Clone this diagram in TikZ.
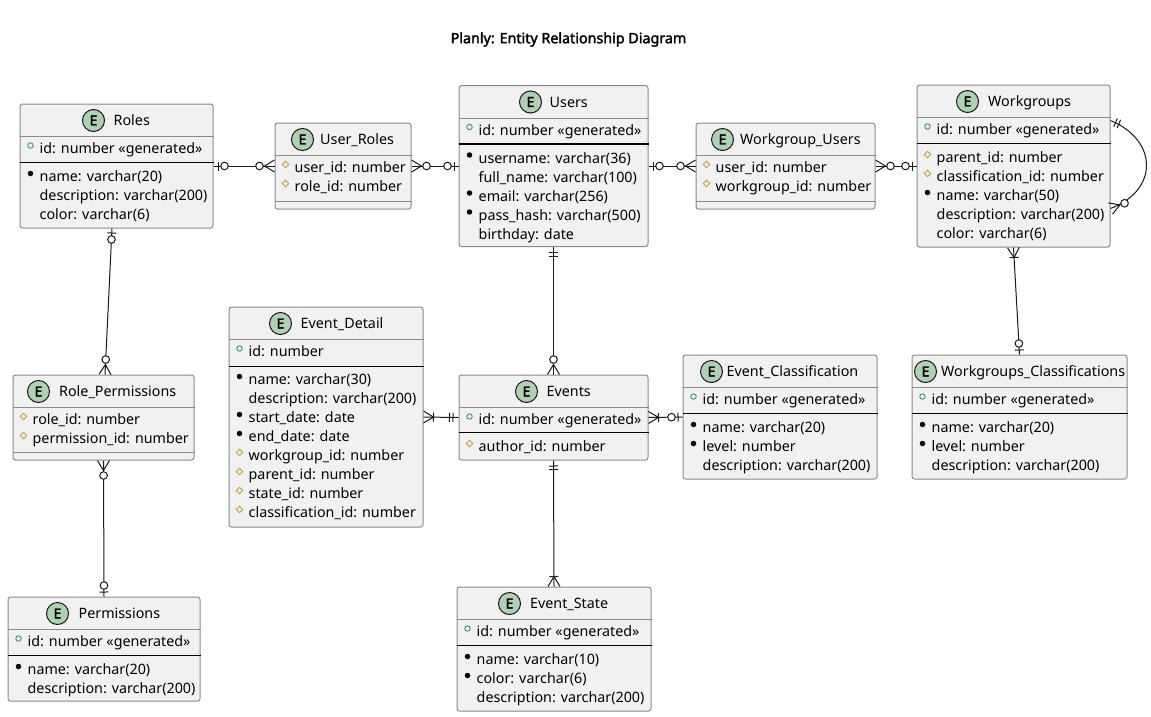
\documentclass[tikz,border=0pt]{standalone}
\usepackage{fontspec}
\setmainfont{Noto Sans}[AutoFakeBold=2.2]
\usetikzlibrary{calc,shapes.geometric}

\definecolor{entfill}{HTML}{F1F1F1}
\definecolor{entline}{HTML}{8A8A8A}
\definecolor{inkline}{HTML}{181818}
\definecolor{iconfill}{HTML}{ADD1B2}
\definecolor{pkgreen}{HTML}{3C9A62}
\definecolor{fkgold}{HTML}{C8A03C}

\newcommand{\fieldfont}{\fontsize{14.3}{17}\selectfont}

% entity parts: #1 entity node
\newcommand{\enthead}[4]{%
  \node[eicon] (#1-icon) at ($(#1.north west)+(#2,17)$) {E};
  \node[etitle] (#1-title) at ($(#1.north west)+(#3,22)$) {#4};
  \draw[hsep] ($(#1.north west)+(0,33)$) -- ($(#1.north east)+(0,33)$);}
\newcommand{\entfield}[5]{%
  \node[mk#4] (#1-#2-mk) at ($(#1.north west)+(11,#3-8)$) {};
  \node[ftext] (#1-#2) at ($(#1.north west)+(20,#3)$) {#5};}
\newcommand{\entplain}[4]{%
  \node[ftext] (#1-#2) at ($(#1.north west)+(20,#3)$) {#4};}
\newcommand{\entkeysep}[2]{%
  \draw[ksep] ($(#1.north west)+(0,#2)$) -- ($(#1.north east)+(0,#2)$);}
\newcommand{\entmethsep}[2]{%
  \draw[hsep] ($(#1.north west)+(0,#2)$) -- ($(#1.north east)+(0,#2)$);}

% crow's foot ends: #1 entity end, #2 other end
\newcommand{\relTick}[3]{%
  \draw[conn] ($(#1)!#3!(#2)!4.5pt!90:(#2)$) -- ($(#1)!#3!(#2)!4.5pt!-90:(#2)$);}
\newcommand{\relRing}[3]{%
  \draw[conn, fill=white] ($(#1)!#3!(#2)$) circle (3.8pt);}
\newcommand{\relCrow}[2]{%
  \draw[conn] ($(#1)!6pt!90:(#2)$) -- ($(#1)!10pt!(#2)$) -- ($(#1)!6pt!-90:(#2)$);}
\newcommand{\zeroone}[2]{\relTick{#1}{#2}{4.5pt}\relRing{#1}{#2}{11pt}}
\newcommand{\zeromany}[2]{\relCrow{#1}{#2}\relRing{#1}{#2}{15pt}}
\newcommand{\exactone}[2]{\relTick{#1}{#2}{5.5pt}\relTick{#1}{#2}{9pt}}
\newcommand{\onemany}[2]{\relCrow{#1}{#2}\relTick{#1}{#2}{10pt}}

\begin{document}
\begin{tikzpicture}[x=1pt, y=-1pt,
  ent/.style={draw=entline, fill=entfill, line width=1pt, rounded corners=2.5pt, inner sep=0},
  eicon/.style={circle, draw=inkline, fill=iconfill, line width=1pt, minimum size=22pt,
    inner sep=0, font=\fontsize{14}{14}\selectfont\bfseries},
  etitle/.style={anchor=base west, inner sep=0, font=\fieldfont},
  ftext/.style={anchor=base west, inner sep=0, font=\fieldfont},
  mkpk/.style={circle, draw=pkgreen, line width=0.9pt, minimum size=5.5pt, inner sep=0},
  mkmd/.style={circle, fill=black, minimum size=5.5pt, inner sep=0},
  mkfk/.style={diamond, draw=fkgold, line width=0.9pt, minimum size=7pt, inner sep=0},
  hsep/.style={draw=entline, line width=1pt},
  ksep/.style={draw=black, line width=1.2pt},
  conn/.style={draw=inkline, line width=1pt}]
  \useasboundingbox (0,0) rectangle (1151,717);

  % Title
  \node[inner sep=0, font=\fontsize{14.3}{17}\selectfont\bfseries] (title) at (568.5,39.5)
    {Planly: Entity Relationship Diagram};

  % Roles
  \node[ent, minimum width=193pt, minimum height=124pt] (roles) at (116.5,166) {};
  \enthead{roles}{74}{94}{Roles}
  \entfield{roles}{id}{50}{pk}{id: number «generated»}
  \entkeysep{roles}{59}
  \entfield{roles}{name}{78}{md}{name: varchar(20)}
  \entplain{roles}{desc}{97}{description: varchar(200)}
  \entplain{roles}{color}{116}{color: varchar(6)}

  % User_Roles
  \node[ent, minimum width=136pt, minimum height=86pt] (userroles) at (343,166) {};
  \enthead{userroles}{28}{45.5}{User\_Roles}
  \entfield{userroles}{user}{50}{fk}{user\_id: number}
  \entfield{userroles}{role}{69}{fk}{role\_id: number}
  \entmethsep{userroles}{79}

  % Users
  \node[ent, minimum width=189pt, minimum height=161pt] (users) at (553.5,166) {};
  \enthead{users}{72}{91}{Users}
  \entfield{users}{id}{50}{pk}{id: number «generated»}
  \entkeysep{users}{59}
  \entfield{users}{username}{78}{md}{username: varchar(36)}
  \entplain{users}{fullname}{97}{full\_name: varchar(100)}
  \entfield{users}{email}{116}{md}{email: varchar(256)}
  \entfield{users}{pass}{135}{md}{pass\_hash: varchar(500)}
  \entplain{users}{birthday}{154}{birthday: date}

  % Workgroup_Users
  \node[ent, minimum width=179pt, minimum height=86pt] (wgusers) at (785.5,166) {};
  \enthead{wgusers}{27}{44.5}{Workgroup\_Users}
  \entfield{wgusers}{user}{50}{fk}{user\_id: number}
  \entfield{wgusers}{wg}{69}{fk}{workgroup\_id: number}
  \entmethsep{wgusers}{79}

  % Workgroups
  \node[ent, minimum width=193pt, minimum height=162pt] (workgroups) at (1013.5,166) {};
  \enthead{workgroups}{51}{71.5}{Workgroups}
  \entfield{workgroups}{id}{50}{pk}{id: number «generated»}
  \entkeysep{workgroups}{59}
  \entfield{workgroups}{parent}{78}{fk}{parent\_id: number}
  \entfield{workgroups}{class}{97}{fk}{classification\_id: number}
  \entfield{workgroups}{name}{116}{md}{name: varchar(50)}
  \entplain{workgroups}{desc}{135}{description: varchar(200)}
  \entplain{workgroups}{color}{154}{color: varchar(6)}

  % Role_Permissions
  \node[ent, minimum width=181pt, minimum height=85pt] (roleperms) at (103.5,417.5) {};
  \enthead{roleperms}{26}{46.5}{Role\_Permissions}
  \entfield{roleperms}{role}{50}{fk}{role\_id: number}
  \entfield{roleperms}{perm}{69}{fk}{permission\_id: number}
  \entmethsep{roleperms}{78}

  % Permissions
  \node[ent, minimum width=192pt, minimum height=104pt] (perms) at (104,649) {};
  \enthead{perms}{50}{71}{Permissions}
  \entfield{perms}{id}{50}{pk}{id: number «generated»}
  \entkeysep{perms}{59}
  \entfield{perms}{name}{78}{md}{name: varchar(20)}
  \entplain{perms}{desc}{97}{description: varchar(200)}

  % Event_Detail
  \node[ent, minimum width=194pt, minimum height=220pt] (eventdetail) at (326,417) {};
  \enthead{eventdetail}{52}{72}{Event\_Detail}
  \entfield{eventdetail}{id}{50}{pk}{id: number}
  \entkeysep{eventdetail}{60}
  \entfield{eventdetail}{name}{78}{md}{name: varchar(30)}
  \entplain{eventdetail}{desc}{97}{description: varchar(200)}
  \entfield{eventdetail}{start}{116}{md}{start\_date: date}
  \entfield{eventdetail}{end}{135}{md}{end\_date: date}
  \entfield{eventdetail}{wg}{154}{fk}{workgroup\_id: number}
  \entfield{eventdetail}{parent}{173}{fk}{parent\_id: number}
  \entfield{eventdetail}{state}{192}{fk}{state\_id: number}
  \entfield{eventdetail}{class}{211}{fk}{classification\_id: number}

  % Events
  \node[ent, minimum width=189pt, minimum height=85pt] (events) at (553.5,417.5) {};
  \enthead{events}{68}{88}{Events}
  \entfield{events}{id}{50}{pk}{id: number «generated»}
  \entkeysep{events}{58}
  \entfield{events}{author}{77}{fk}{author\_id: number}

  % Event_Classification
  \node[ent, minimum width=194pt, minimum height=124pt] (eventclass) at (780,417) {};
  \enthead{eventclass}{29}{44}{Event\_Classification}
  \entfield{eventclass}{id}{50}{pk}{id: number «generated»}
  \entkeysep{eventclass}{59}
  \entfield{eventclass}{name}{78}{md}{name: varchar(20)}
  \entfield{eventclass}{level}{97}{md}{level: number}
  \entplain{eventclass}{desc}{116}{description: varchar(200)}

  % Workgroups_Classifications
  \node[ent, minimum width=215pt, minimum height=124pt] (wgclass) at (1019.5,417) {};
  \enthead{wgclass}{14}{29.5}{Workgroups\_Classifications}
  \entfield{wgclass}{id}{50}{pk}{id: number «generated»}
  \entkeysep{wgclass}{59}
  \entfield{wgclass}{name}{78}{md}{name: varchar(20)}
  \entfield{wgclass}{level}{97}{md}{level: number}
  \entplain{wgclass}{desc}{116}{description: varchar(200)}

  % Event_State
  \node[ent, minimum width=194pt, minimum height=124pt] (eventstate) at (554,649) {};
  \enthead{eventstate}{53}{73.5}{Event\_State}
  \entfield{eventstate}{id}{50}{pk}{id: number «generated»}
  \entkeysep{eventstate}{59}
  \entfield{eventstate}{name}{78}{md}{name: varchar(10)}
  \entfield{eventstate}{color}{97}{md}{color: varchar(6)}
  \entplain{eventstate}{desc}{116}{description: varchar(200)}

  % Relations, top row
  \draw[conn] (roles.east) -- (userroles.west);
  \zeroone{roles.east}{userroles.west}
  \zeromany{userroles.west}{roles.east}

  \draw[conn] (userroles.east) -- (users.west);
  \zeromany{userroles.east}{users.west}
  \zeroone{users.west}{userroles.east}

  \draw[conn] (users.east) -- (wgusers.west);
  \zeroone{users.east}{wgusers.west}
  \zeromany{wgusers.west}{users.east}

  \draw[conn] (wgusers.east) -- (workgroups.west);
  \zeromany{wgusers.east}{workgroups.west}
  \zeroone{workgroups.west}{wgusers.east}

  % Workgroups parent loop
  \coordinate (wg-top) at ($(workgroups.north east)+(0,36)$);
  \coordinate (wg-bot) at ($(workgroups.north east)+(0,124)$);
  \coordinate (wg-c1) at ($(wg-top)+(48,20)$);
  \coordinate (wg-c2) at ($(wg-bot)+(48,-18)$);
  \draw[conn] (wg-top) .. controls (wg-c1) and (wg-c2) .. (wg-bot);
  \exactone{wg-top}{wg-c1}
  \zeromany{wg-bot}{wg-c2}

  \draw[conn] (workgroups.south) -- (wgclass.north);
  \onemany{workgroups.south}{wgclass.north}
  \zeroone{wgclass.north}{workgroups.south}

  % Relations, Events
  \draw[conn] (users.south) -- (events.north);
  \exactone{users.south}{events.north}
  \zeromany{events.north}{users.south}

  \draw[conn] (eventdetail.east) -- (events.west);
  \onemany{eventdetail.east}{events.west}
  \exactone{events.west}{eventdetail.east}

  \draw[conn] (events.east) -- (eventclass.west);
  \onemany{events.east}{eventclass.west}
  \zeroone{eventclass.west}{events.east}

  \draw[conn] (events.south) -- (eventstate.north);
  \exactone{events.south}{eventstate.north}
  \onemany{eventstate.north}{events.south}

  % Relations, permissions
  \coordinate (roles-rp) at ($(roles.south)+(-4.5,0)$);
  \coordinate (rp-roles) at ($(roleperms.north)+(1.5,0)$);
  \draw[conn] (roles-rp) -- (rp-roles);
  \zeroone{roles-rp}{rp-roles}
  \zeromany{rp-roles}{roles-rp}

  \draw[conn] (roleperms.south) -- (perms.north);
  \zeromany{roleperms.south}{perms.north}
  \zeroone{perms.north}{roleperms.south}
\end{tikzpicture}
\end{document}
